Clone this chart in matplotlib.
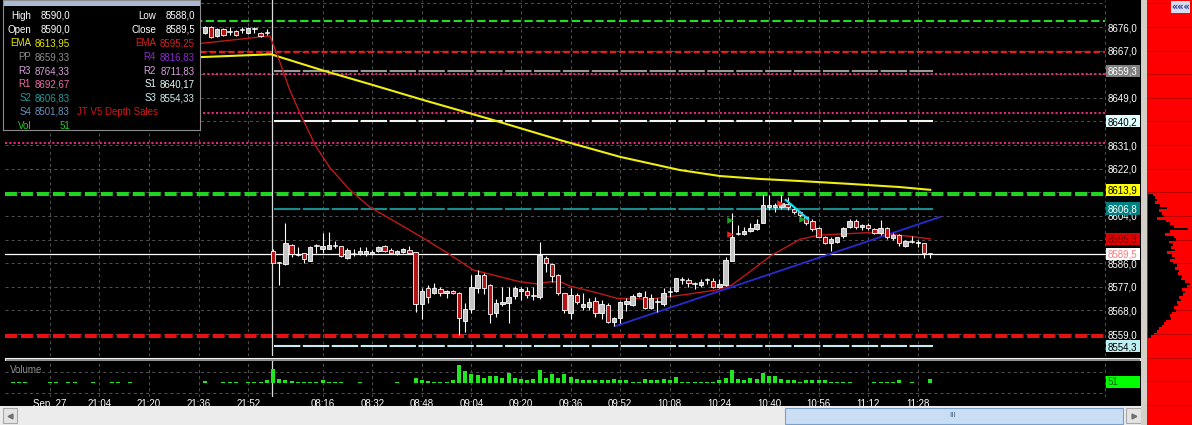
import numpy as np
import matplotlib
matplotlib.use("Agg")
import matplotlib.pyplot as plt
from matplotlib.patches import Rectangle
from matplotlib.transforms import blended_transform_factory

plt.rcParams['font.family'] = ['Liberation Sans', 'DejaVu Sans']
plt.rcParams['lines.scale_dashes'] = False

# ===================== data =====================
# bar index: 2-minute bars, 0 = 08:00 (session open), negatives = previous evening
candle_k = list(range(-11, 107))
candle_open = [8673.6, 8675.9, 8672.6, 8675.1, 8674.2, 8674.6, 8674.9, 8673.6, 8675.1, 8673.8, 8673.6,
    8590.8, 8586.3, 8585.7, 8592.9, 8589.0, 8589.8, 8587.0, 8592.4, 8591.3, 8591.3,
    8592.4, 8592.5, 8587.8, 8589.7, 8589.5, 8589.4, 8589.5, 8590.8, 8592.5, 8591.0,
    8589.5, 8590.4, 8591.0, 8590.4, 8570.4, 8576.7, 8574.7, 8576.0, 8574.5, 8575.4,
    8574.5, 8564.1, 8568.4, 8576.7, 8581.5, 8577.6, 8566.9, 8570.3, 8571.0, 8573.5,
    8575.4, 8575.4, 8573.4, 8573.0, 8587.9, 8585.7, 8581.5, 8574.5, 8567.1, 8573.9,
    8569.4, 8569.4, 8571.6, 8567.1, 8570.0, 8563.7, 8565.0, 8570.4, 8570.1, 8573.6,
    8573.2, 8568.8, 8571.3, 8570.4, 8575.0, 8575.4, 8579.7, 8579.6, 8577.9, 8577.7,
    8579.5, 8579.2, 8576.8, 8577.7, 8586.9, 8597.3, 8597.1, 8598.4, 8598.9, 8601.4,
    8607.5, 8607.5, 8607.5, 8608.5, 8606.5, 8605.6, 8603.5, 8602.2, 8599.3, 8595.9,
    8593.8, 8594.2, 8596.4, 8599.9, 8602.2, 8599.9, 8600.5, 8598.9, 8597.4, 8599.3,
    8595.5, 8596.7, 8592.5, 8594.1, 8593.6, 8593.6, 8590.0]
candle_high = [8676.2, 8676.2, 8675.5, 8675.5, 8676.1, 8675.0, 8675.9, 8675.9, 8675.9, 8674.2, 8675.1,
    8591.3, 8586.6, 8601.4, 8593.3, 8592.0, 8590.0, 8592.5, 8593.3, 8597.6, 8597.9,
    8594.6, 8592.5, 8591.7, 8591.3, 8592.3, 8592.3, 8591.0, 8592.5, 8593.0, 8591.7,
    8591.1, 8591.7, 8592.5, 8590.4, 8576.4, 8577.7, 8578.3, 8577.1, 8575.8, 8575.8,
    8575.1, 8570.7, 8581.5, 8583.4, 8582.4, 8578.1, 8572.5, 8576.8, 8576.8, 8577.3,
    8577.1, 8577.1, 8577.1, 8594.2, 8588.7, 8586.2, 8582.0, 8574.8, 8576.4, 8574.5,
    8574.5, 8572.6, 8573.0, 8572.0, 8570.7, 8565.6, 8571.7, 8572.6, 8574.3, 8575.1,
    8575.5, 8574.1, 8572.6, 8576.4, 8576.8, 8580.5, 8580.8, 8580.5, 8579.0, 8580.1,
    8580.5, 8580.2, 8579.8, 8588.5, 8605.0, 8600.5, 8599.9, 8601.4, 8602.7, 8612.0,
    8612.0, 8608.8, 8612.0, 8611.1, 8606.9, 8606.0, 8604.0, 8602.7, 8599.7, 8596.4,
    8596.1, 8596.1, 8599.7, 8602.7, 8602.7, 8600.9, 8601.3, 8599.4, 8602.4, 8599.7,
    8597.4, 8597.1, 8594.8, 8596.4, 8594.8, 8593.8, 8590.0]
candle_low = [8673.3, 8671.8, 8672.2, 8672.6, 8672.9, 8672.6, 8673.6, 8673.3, 8673.6, 8672.3, 8672.9,
    8586.0, 8577.7, 8585.3, 8588.2, 8588.7, 8586.2, 8586.7, 8589.8, 8589.8, 8591.3,
    8591.7, 8588.2, 8587.5, 8588.7, 8589.1, 8588.7, 8589.2, 8590.2, 8590.2, 8589.4,
    8589.2, 8590.0, 8589.4, 8567.5, 8564.8, 8571.0, 8574.3, 8573.3, 8572.7, 8574.1,
    8558.6, 8559.9, 8566.9, 8574.7, 8574.1, 8563.1, 8565.6, 8569.7, 8563.1, 8572.2,
    8571.8, 8572.7, 8571.8, 8572.5, 8582.7, 8578.9, 8573.8, 8566.9, 8564.6, 8570.4,
    8568.1, 8568.1, 8565.6, 8564.6, 8563.3, 8562.0, 8563.1, 8567.9, 8569.7, 8573.0,
    8568.4, 8568.4, 8567.5, 8569.7, 8573.0, 8575.1, 8578.1, 8576.8, 8576.0, 8576.9,
    8578.0, 8576.4, 8576.4, 8577.3, 8586.9, 8596.7, 8596.7, 8598.0, 8598.6, 8601.4,
    8606.3, 8605.6, 8606.5, 8606.3, 8604.6, 8603.7, 8600.5, 8598.4, 8595.9, 8593.3,
    8590.8, 8593.6, 8595.5, 8599.4, 8599.0, 8598.6, 8598.6, 8597.0, 8596.7, 8595.1,
    8594.9, 8592.5, 8592.1, 8593.6, 8592.1, 8587.9, 8588.0]
candle_close = [8675.9, 8672.1, 8675.1, 8672.9, 8674.2, 8672.9, 8674.9, 8675.5, 8675.1, 8672.6, 8673.6,
    8586.2, 8586.1, 8593.6, 8589.4, 8589.2, 8587.5, 8592.0, 8592.5, 8592.5, 8592.9,
    8592.5, 8588.7, 8591.0, 8589.8, 8590.5, 8590.8, 8590.4, 8592.0, 8590.8, 8589.8,
    8590.6, 8591.3, 8589.8, 8570.4, 8575.4, 8573.0, 8576.7, 8574.5, 8575.4, 8574.5,
    8565.0, 8568.4, 8576.8, 8581.5, 8576.7, 8566.6, 8571.0, 8571.2, 8573.2, 8576.4,
    8576.0, 8573.9, 8573.5, 8589.1, 8586.2, 8581.1, 8574.5, 8568.1, 8573.9, 8571.3,
    8570.4, 8571.3, 8567.1, 8570.4, 8563.7, 8565.0, 8571.3, 8571.6, 8573.6, 8574.5,
    8568.8, 8572.6, 8571.7, 8574.5, 8575.1, 8580.2, 8579.8, 8578.3, 8578.0, 8579.0,
    8579.6, 8576.8, 8578.0, 8587.2, 8595.9, 8597.4, 8598.4, 8599.3, 8600.9, 8608.2,
    8608.2, 8608.2, 8608.8, 8607.3, 8605.6, 8604.4, 8601.2, 8598.9, 8596.1, 8593.8,
    8595.1, 8595.9, 8599.3, 8602.2, 8599.9, 8600.5, 8599.3, 8597.4, 8599.3, 8595.9,
    8596.7, 8593.6, 8594.4, 8594.2, 8594.2, 8589.8, 8589.5]

vol_k = [-42, -41, -40, -36, -35, -33, -32, -29, -26, -25, -23, -11, -8, -7, -6, -4, -3, -2, -1] + list(range(0, 107))
vol_v = [12, 12, 12, 12, 12, 12, 12, 12, 12, 12, 12, 24, 12, 12, 18, 12, 12, 12, 36,
    170, 52, 40, 24, 12, 12, 12, 12, 32, 12,
    12, 12, 0, 0, 12, 0, 0, 0, 0, 0,
    12, 0, 0, 64, 40, 24, 12, 12, 12, 40,
    212, 144, 112, 92, 64, 80, 80, 64, 120, 64,
    52, 32, 52, 160, 64, 104, 64, 104, 72, 52,
    40, 40, 40, 40, 40, 52, 40, 40, 12, 12,
    52, 32, 32, 52, 40, 72, 12, 12, 12, 12,
    12, 12, 40, 64, 152, 52, 40, 64, 52, 120,
    80, 80, 52, 40, 40, 12, 40, 40, 40, 40,
    12, 12, 12, 12, 0, 0, 0, 12, 12, 12,
    12, 40, 0, 12, 0, 0, 51]

ema_fast_k = [-13, -0.5, 1.1, 2.7, 4.4, 6.8, 9.2, 12.4, 15.6, 19.2, 24.2, 28.1, 32.3, 35.5, 39.8,
              42.6, 44.7, 46.3, 47.9, 51.6, 55.5, 60.8, 66.1, 71.6, 74.0, 76.9, 80.2, 85.0, 88.2,
              91.5, 95.8, 99.5, 103.2, 106.0]
ema_fast_v = [8669.4, 8672.6, 8662.7, 8652.0, 8642.9, 8631.0, 8622.3, 8613.9, 8607.4, 8602.5,
              8595.6, 8589.9, 8583.4, 8581.5, 8578.9, 8578.1, 8578.9, 8578.9, 8577.3, 8575.1,
              8572.6, 8572.3, 8573.9, 8575.8, 8577.7, 8582.7, 8588.7, 8595.1, 8596.7, 8597.1,
              8597.6, 8597.0, 8596.1, 8595.251]
ema_slow_k = [-13, -0.3, 8.1, 16.1, 24.2, 35.0, 46.3, 56.0, 65.6, 72.1, 78.5, 85.0, 93.1, 101.1, 106.0]
ema_slow_v = [8664.4, 8665.6, 8659.4, 8653.9, 8648.2, 8640.9, 8632.9, 8626.5, 8621.5, 8619.2,
              8618.1, 8617.3, 8616.2, 8615.0, 8613.949]

trend_k = [55.2, 107.6]
trend_v = [8562.0, 8603.6]
cyan_k = [82.7, 86.3]
cyan_v = [8610.1, 8602.8]
flag_red_k = [73.7, 81.8]
flag_red_v = [8597.2, 8609.1]
flag_green_k = [73.7, 85.3]
flag_green_v = [8602.4, 8602.8]

pivot_names = ['PP', 'R1', 'R2', 'R3', 'R4', 'S1', 'S2', 'S3', 'S4']
pivot_values = [8659.33, 8692.67, 8711.83, 8764.33, 8816.83, 8640.17, 8606.83, 8554.33, 8501.83]
ema_slow_last = ema_slow_v[-1]
ema_fast_last = ema_fast_v[-1]

level_green_top = 8678.4
level_red_top = 8666.6
level_pink = [8658.1, 8643.3, 8631.9]
level_green_band = 8612.2
level_red_band = 8558.1

price_grid = [8685, 8676, 8667, 8658, 8649, 8640, 8631, 8622, 8613, 8604, 8595, 8586, 8577, 8568, 8559]
price_labels = [8676, 8667, 8649, 8631, 8622, 8604, 8586, 8577, 8568, 8559]

tick_k = [-36, -28, -20, -12, -4, 8, 16, 24, 32, 40, 48, 56, 64, 72, 80, 88, 96, 104]
tick_labels = ["Sep, 27", "21:04", "21:20", "21:36", "21:52", "08:16", "08:32", "08:48", "09:04",
               "09:20", "09:36", "09:52", "10:08", "10:24", "10:40", "10:56", "11:12", "11:28"]

depth_price = [8612, 8611, 8610, 8609, 8608, 8607, 8606, 8605, 8604, 8603, 8602, 8601, 8600, 8599,
               8598, 8597, 8596, 8595, 8594, 8593, 8592, 8591, 8590, 8589, 8588, 8587, 8586, 8585,
               8584, 8583, 8582, 8581, 8580, 8579, 8578, 8577, 8576, 8575, 8574, 8573, 8572, 8571,
               8570, 8569, 8568, 8567, 8566, 8565, 8564, 8563, 8562, 8561, 8560, 8559, 8558]
depth_size = [5, 7, 9, 7, 12, 19, 11, 14, 16, 9, 18, 22, 26, 40, 22, 17, 26, 28, 21, 25, 23, 27, 19,
              24, 27, 22, 25, 29, 27, 31, 30, 34, 33, 37, 42, 39, 34, 37, 35, 31, 33, 29, 30, 26, 28,
              24, 22, 23, 18, 16, 14, 11, 9, 6, 3]

# ===================== layout =====================
W, H = 1192, 425
fig = plt.figure(figsize=(W / 100, H / 100), dpi=100)
fig.patch.set_facecolor('black')


def px_axes(x0, y0, x1, y1, fc='black', z=1):
    a = fig.add_axes([x0 / W, 1 - y1 / H, (x1 - x0) / W, (y1 - y0) / H], zorder=z)
    a.set_facecolor(fc)
    a.set_xticks([])
    a.set_yticks([])
    for s in a.spines.values():
        s.set_visible(False)
    return a


XL = (-44.03, 140.32)
YL = (8550.62, 8686.29)
LEFT_K, RIGHT_K = -43.2, 134.2
GRID_C = '#4e4e4e'
GRID_LS = (0, (2.2, 2.2))
FS = 7

k = np.array(candle_k, dtype=float)
o = np.array(candle_open)
h = np.array(candle_high)
l = np.array(candle_low)
c = np.array(candle_close)

# ---------- main price panel ----------
ax = px_axes(0, 0, 1143, 356)
ax.hlines(price_grid, LEFT_K, RIGHT_K, colors=GRID_C, lw=0.72, linestyles=[GRID_LS], zorder=1)
ax.vlines(tick_k + [RIGHT_K], YL[0], YL[1], colors=GRID_C, lw=0.72, linestyles=[GRID_LS], zorder=1)

# full width levels
ax.plot([LEFT_K, RIGHT_K], [level_green_top] * 2, color='#22dd22', lw=1.5, ls=(0, (6, 2.5)), zorder=2)
ax.plot([LEFT_K, RIGHT_K], [level_red_top] * 2, color='#e02020', lw=1.7, ls=(0, (4.5, 2.2)), zorder=2)
for p in level_pink:
    ax.plot([LEFT_K, RIGHT_K], [p, p], color='#e8247c', lw=1.5, ls=(0, (1.5, 1.6)), zorder=2)
ax.plot([LEFT_K, RIGHT_K], [level_green_band] * 2, color='#22d422', lw=2.9, ls=(0, (8.6, 2.9)), zorder=2)
ax.plot([LEFT_K, RIGHT_K], [level_red_band] * 2, color='#e81010', lw=2.9, ls=(0, (8.6, 2.9)), zorder=2)
ax.plot([LEFT_K, RIGHT_K], [c[-1]] * 2, color='white', lw=0.9, zorder=2)

# pivot lines for today's session
piv = dict(zip(pivot_names, pivot_values))
for name, col in [('PP', '#9a9a9a'), ('S1', '#f4f4f4'), ('S2', '#1a8c8c'), ('S3', '#c4eef2')]:
    ax.plot([0.1, 106.4], [piv[name]] * 2, color=col, lw=1.5, ls=(0, (19, 1.8)), zorder=2)

# session separator
ax.axvline(-0.1, color='#dcdcdc', lw=0.9, zorder=3)

# EMAs and drawings
ax.plot(ema_slow_k, ema_slow_v, color='#eeee10', lw=1.5, zorder=4)
ax.plot(ema_fast_k, ema_fast_v, color='#c01818', lw=1.0, zorder=4)
ax.plot(trend_k, trend_v, color='#2a2ad0', lw=1.3, zorder=4)
ax.plot(cyan_k, cyan_v, color='#10e0f0', lw=1.6, zorder=7)

# candles
ax.vlines(k, l, h, colors='white', lw=0.8, zorder=5)
body_lo = np.minimum(o, c)
body_h = np.maximum(np.abs(c - o), 0.35)
doji = np.abs(c - o) < 0.55
up = (c >= o) & ~doji
dn = (c < o) & ~doji
ax.bar(k[up], body_h[up], bottom=body_lo[up], width=0.72, color='#c4c4c4', edgecolor='white', lw=0.6, zorder=6)
ax.bar(k[dn], body_h[dn], bottom=body_lo[dn], width=0.72, color='#b01414', edgecolor='white', lw=0.6, zorder=6)
ax.bar(k[doji], body_h[doji], bottom=body_lo[doji], width=0.72, color='white', edgecolor='white', lw=0.4, zorder=6)

ax.scatter(flag_red_k, flag_red_v, marker='>', s=22, color='#ee2020', zorder=8, linewidths=0)
ax.scatter(flag_green_k, flag_green_v, marker='>', s=22, color='#1fa81f', zorder=8, linewidths=0)

ax.set_xlim(XL)
ax.set_ylim(YL)

# price axis labels and badges
bt = blended_transform_factory(ax.transAxes, ax.transData)
for p in price_labels:
    ax.text(1108 / 1143, p, f"{p:.1f}".replace('.', ','), transform=bt, color='white', fontsize=FS,
            va='center_baseline', ha='left', zorder=10)

HALF = 6.2 / 2.624


def badge(price, fc, tc):
    ax.add_patch(Rectangle((1106 / 1143, price - HALF), 34 / 1143, 2 * HALF, transform=bt,
                           facecolor=fc, edgecolor='none', zorder=20))
    ax.text(1108 / 1143, price, f"{price:.1f}".replace('.', ','), transform=bt, color=tc,
            fontsize=FS, va='center_baseline', ha='left', zorder=21)


badge(piv['PP'], '#808080', 'white')
badge(piv['S1'], '#e0ffff', 'black')
badge(ema_slow_last, '#ffff00', 'black')
badge(piv['S2'], '#008080', 'white')
badge(ema_fast_last, '#e00000', '#7a0000')
badge(c[-1], 'white', '#ff7c7c')
badge(piv['S3'], '#bfeff2', 'black')

# separator between panels
fig.add_artist(Rectangle((5 / W, 1 - 361 / H), 1135 / W, 3.5 / H, transform=fig.transFigure,
                         facecolor='#8a8a8a', edgecolor='#f0f0f0', lw=0.8))

# ---------- volume panel ----------
vx = px_axes(0, 361, 1143, 397)
vx.hlines([132, -120], LEFT_K, RIGHT_K, colors=GRID_C, lw=0.72, linestyles=[GRID_LS], zorder=1)
vx.vlines(tick_k + [RIGHT_K], -168, 264, colors=GRID_C, lw=0.72, linestyles=[GRID_LS], zorder=1)
vx.axvline(-0.1, color='#dcdcdc', lw=0.9, zorder=2)
vx.bar(vol_k, vol_v, width=0.62, color='#22e622', zorder=3)
vx.set_xlim(XL)
vx.set_ylim(-168, 264)
vx.text(10 / 1143, 0.75, 'Volume', transform=vx.transAxes, color='#8c8c8c', fontsize=FS,
        va='center', ha='left')
vx.add_patch(Rectangle((1106 / 1143, 0.25), 34 / 1143, 0.333, transform=vx.transAxes,
                       facecolor='#00ff00', edgecolor='none', zorder=5))
vx.text(1108 / 1143, 0.415, str(vol_v[-1]), transform=vx.transAxes, color='#0b5e0b', fontsize=FS,
        va='center', ha='left', zorder=6)
vx.set_xticks(tick_k)
vx.set_xticklabels(tick_labels)
vx.tick_params(axis='x', length=0, pad=1.2, labelcolor='white', labelsize=FS)

# ---------- scrollbar ----------
sb = px_axes(0, 406, 1143, 425, fc='#ececec')
sb.set_xlim(0, 1143)
sb.set_ylim(19, 0)
sb.add_patch(Rectangle((3, 2), 14, 15, facecolor='#e4e4e4', edgecolor='#a8a8a8', lw=0.8))
sb.plot([9.5], [9.5], marker='<', color='#707070', ms=3.5)
sb.add_patch(Rectangle((785, 1.5), 338, 16, facecolor='#c9def3', edgecolor='#7b9fc8', lw=0.8))
sb.text(953, 9.5, 'III', color='#4a6a90', fontsize=6, ha='center', va='center')
sb.add_patch(Rectangle((1126, 2), 15, 15, facecolor='#e4e4e4', edgecolor='#a8a8a8', lw=0.8))
sb.plot([1134], [9.5], marker='>', color='#707070', ms=3.5)

# ---------- border + depth panel ----------
px_axes(1141, 0, 1147, 425, fc='#d4d0c8')
dp = px_axes(1147, 0, 1192, 425, fc='#ff0000')
dp.set_ylim(8686.29 - 425 / 2.624, 8686.29)
dp.set_xlim(-1, 44)
dp.hlines(price_grid + [8550, 8541, 8532], -1, 44, colors='#c00000', lw=0.8)
dp.barh(depth_price, depth_size, height=1.0, left=0, color='black', zorder=3)

btn = px_axes(1171, 1, 1190, 13, fc='#d4dcee', z=5)
btn.text(0.5, 0.5, '«««', transform=btn.transAxes, color='#24348a', fontsize=7, ha='center',
         va='center', fontweight='bold', family='DejaVu Sans')

# ---------- info box ----------
ib = px_axes(3, 0, 200, 130, z=10)
for s in ib.spines.values():
    s.set_visible(True)
    s.set_color('#8c8c8c')
ib.set_xlim(0, 197)
ib.set_ylim(130, 0)
ib.add_patch(Rectangle((0, 0), 197, 6, facecolor='#a9b9d3', edgecolor='none'))


def fmt2(v):
    return f"{v:.2f}".replace('.', ',')


def fmt1(v):
    return f"{v:.1f}".replace('.', ',')


rows_y = [15, 29, 42.3, 56, 70, 83.3, 97.3, 110.7, 125]
left_items = [('High', fmt1(h[-1]), 'white'), ('Open', fmt1(o[-1]), 'white'),
              ('EMA', fmt2(ema_slow_last), '#e6e600'), ('PP', fmt2(piv['PP']), '#8c8c8c'),
              ('R3', fmt2(piv['R3']), '#d6a2dc'), ('R1', fmt2(piv['R1']), '#ee6ea6'),
              ('S2', fmt2(piv['S2']), '#1f9c9c'), ('S4', fmt2(piv['S4']), '#6890bc'),
              ('Vol', str(vol_v[-1]), '#22cc22')]
right_items = [('Low', fmt1(l[-1]), 'white'), ('Close', fmt1(c[-1]), 'white'),
               ('EMA', fmt2(ema_fast_last), '#d42020'), ('R4', fmt2(piv['R4']), '#8a2ad0'),
               ('R2', fmt2(piv['R2']), '#d6a2dc'), ('S1', fmt2(piv['S1']), '#e6fafa'),
               ('S3', fmt2(piv['S3']), '#cdeff0')]
for y, (lab, val, col) in zip(rows_y, left_items):
    ib.text(28, y, lab, color=col, fontsize=FS, ha='right', va='center_baseline')
    ib.text(67, y, val, color=col, fontsize=FS, ha='right', va='center_baseline')
for y, (lab, val, col) in zip(rows_y, right_items):
    ib.text(153, y, lab, color=col, fontsize=FS, ha='right', va='center_baseline')
    ib.text(192, y, val, color=col, fontsize=FS, ha='right', va='center_baseline')
ib.text(74, rows_y[7], 'JT V5 Depth Sales', color='#d01818', fontsize=FS, ha='left', va='center_baseline')

fig.savefig('out.png', dpi=100, facecolor='black')
